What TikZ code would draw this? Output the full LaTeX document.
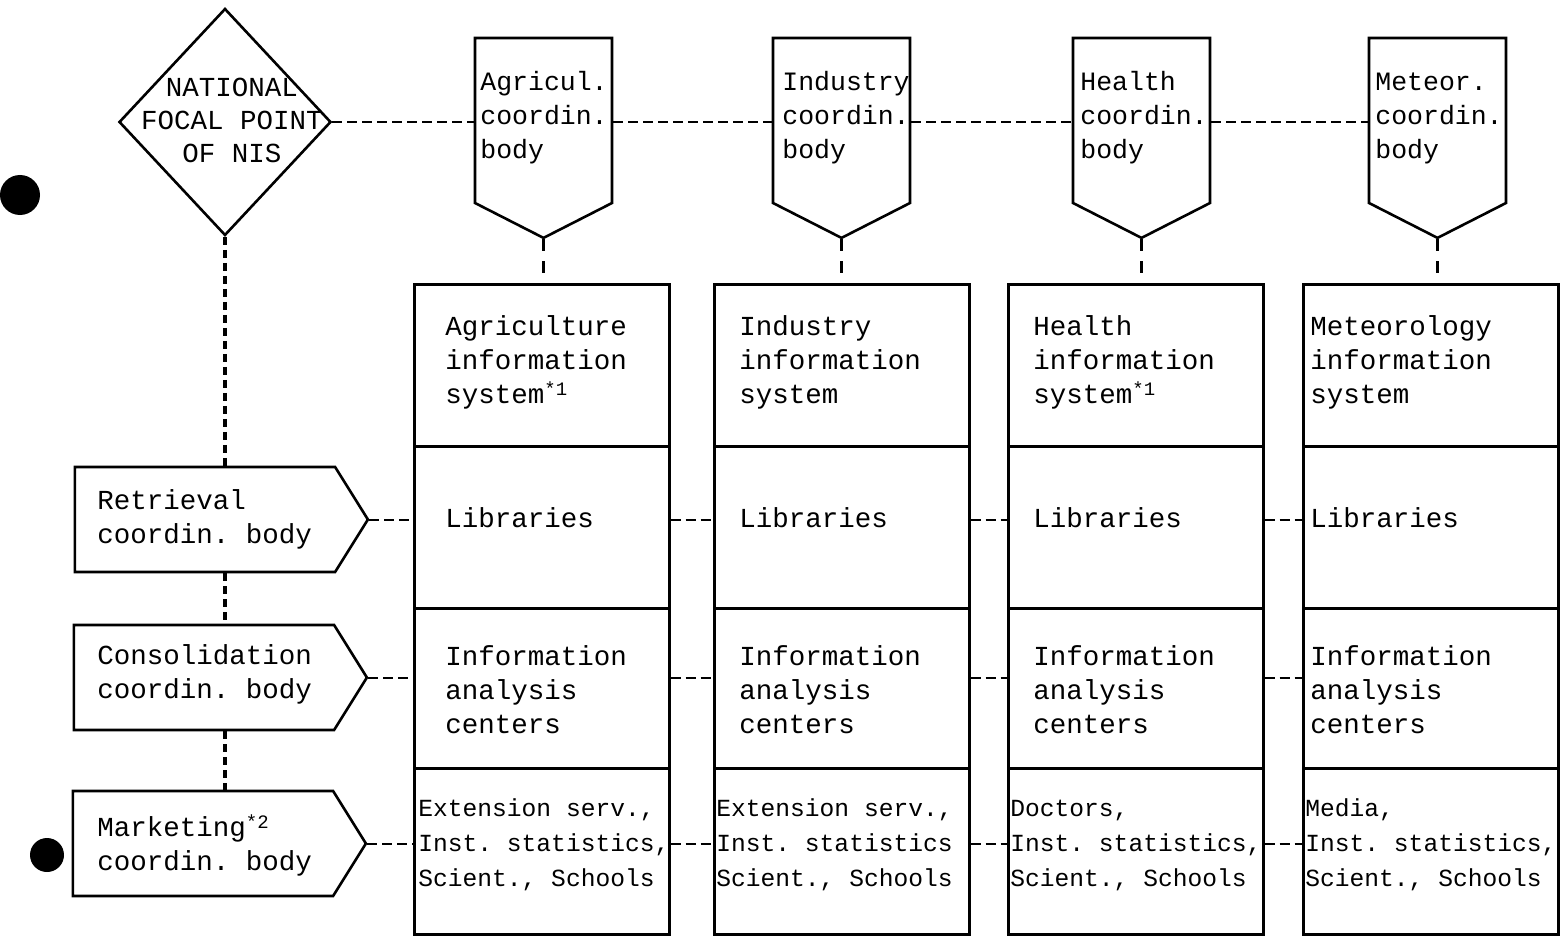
\documentclass[tikz,border=0pt]{standalone}
\usepackage{fontspec}
\newfontfamily\tw{Liberation Mono}
\usetikzlibrary{shapes.geometric,shapes.symbols}
\newcommand{\fnmark}[1]{\raisebox{0.55ex}{\fontsize{9.5}{9.5}\selectfont #1}}
\begin{document}
\frenchspacing
\begin{tikzpicture}[x=0.5pt,y=-0.5pt,
  outl/.style={draw=black,line width=1.3pt,inner sep=0pt},
  shield/.style={outl,signal,signal to=south,signal from=nowhere,
    signal pointer angle=126,minimum width=68.5pt,minimum height=82.5pt},
  coord/.style={outl,signal,signal to=east,signal from=nowhere,
    signal pointer angle=116,minimum width=146.5pt,minimum height=52.5pt},
  cell/.style={outl,rectangle,anchor=north west,minimum width=127.5pt},
  txt/.style={font=\tw\fontsize{13.75}{17}\selectfont,anchor=west,inner sep=0pt,align=left},
  hdtxt/.style={font=\tw\fontsize{13.25}{17}\selectfont,anchor=west,inner sep=0pt,align=left},
  smtxt/.style={font=\tw\fontsize{12.3}{17.5}\selectfont,anchor=west,inner sep=0pt,align=left},
  topdash/.style={line width=1pt,dash pattern=on 5pt off 2.5pt},
  vdash/.style={line width=1.6pt,dash pattern=on 6pt off 5pt},
  ldash/.style={line width=1.6pt,dash pattern=on 4pt off 2.5pt},
  rdash/.style={line width=1pt,dash pattern=on 5pt off 2.5pt},
  blot/.style={fill=black,draw=none}
]
\useasboundingbox (0,0) rectangle (1566,936);
\fill[white] (0,0) rectangle (1566,936);

% National focal point
\node[outl,diamond,minimum width=106pt,minimum height=113.5pt] (nfp) at (225,122) {};
\node[hdtxt,anchor=center,align=center,font=\tw\fontsize{13.75}{16.5}\selectfont] (nfpt) at (232,120) {NATIONAL\\FOCAL POINT\\OF NIS};

% coordination bodies (top)
\node[shield] (ag) at (543.5,120.5) {};
\node[shield] (in) at (841.5,120.5) {};
\node[shield] (he) at (1141.5,120.5) {};
\node[shield] (me) at (1437.5,120.5) {};
\node[hdtxt] (agt) at (480,118) {Agricul.\\coordin.\\body};
\node[hdtxt] (int) at (782,118) {Industry\\coordin.\\body};
\node[hdtxt] (het) at (1080,118) {Health\\coordin.\\body};
\node[hdtxt] (met) at (1375,118) {Meteor.\\coordin.\\body};

% left coordination bodies
\node[coord] (ret) at (205,519.5) {};
\node[coord] (con) at (204,677.5) {};
\node[coord] (mar) at (203,843.5) {};
\node[txt] (rett) at (97,519) {Retrieval\\coordin. body};
\node[txt] (cont) at (97,674) {Consolidation\\coordin. body};
\node[txt] (mart) at (97,845) {Marketing\fnmark{*2}\\coordin. body};

% columns
\foreach \n/\x in {a/413,i/713,h/1007,m/1302}{
  \node[cell,minimum height=81pt] (\n1) at (\x,283) {};
  \node[cell,minimum height=81pt] (\n2) at (\x,445) {};
  \node[cell,minimum height=80pt] (\n3) at (\x,607) {};
  \node[cell,minimum height=83pt] (\n4) at (\x,767) {};
}

% column texts
\node[txt] (a1t) at (445,362) {Agriculture\\information\\system\fnmark{*1}};
\node[txt] (i1t) at (739,362) {Industry\\information\\system};
\node[txt] (h1t) at (1033,362) {Health\\information\\system\fnmark{*1}};
\node[txt] (m1t) at (1310,362) {Meteorology\\information\\system};

\node[txt] (a2t) at (445,518) {Libraries};
\node[txt] (i2t) at (739,518) {Libraries};
\node[txt] (h2t) at (1033,518) {Libraries};
\node[txt] (m2t) at (1310,518) {Libraries};

\node[txt] (a3t) at (445,690) {Information\\analysis\\centers};
\node[txt] (i3t) at (739,690) {Information\\analysis\\centers};
\node[txt] (h3t) at (1033,690) {Information\\analysis\\centers};
\node[txt] (m3t) at (1310,690) {Information\\analysis\\centers};

\node[smtxt] (a4t) at (418,845) {Extension serv.,\\Inst. statistics,\\Scient., Schools};
\node[smtxt] (i4t) at (716,845) {Extension serv.,\\Inst. statistics\\Scient., Schools};
\node[smtxt] (h4t) at (1010,845) {Doctors,\\Inst. statistics,\\Scient., Schools};
\node[smtxt] (m4t) at (1305,845) {Media,\\Inst. statistics,\\Scient., Schools};

% top horizontal dashed line
\draw[topdash] (nfp.east) -- (nfp.east -| ag.west);
\draw[topdash] (ag.east |- nfp.east) -- (in.west |- nfp.east);
\draw[topdash] (in.east |- nfp.east) -- (he.west |- nfp.east);
\draw[topdash] (he.east |- nfp.east) -- (me.west |- nfp.east);

% shields to columns
\draw[vdash] (ag.south) -- (ag.south |- a1.north);
\draw[vdash] (in.south) -- (in.south |- i1.north);
\draw[vdash] (he.south) -- (he.south |- h1.north);
\draw[vdash] (me.south) -- (me.south |- m1.north);

% left vertical chain
\draw[ldash] (nfp.south) -- (nfp.south |- ret.north);
\draw[ldash] (nfp.south |- ret.south) -- (nfp.south |- con.north);
\draw[ldash] (nfp.south |- con.south) -- (nfp.south |- mar.north);

% row connectors
\foreach \b/\r in {ret/2,con/3,mar/4}{
  \draw[rdash] (\b.east) -- (\b.east -| a\r.west);
  \draw[rdash] (a\r.east |- \b.east) -- (i\r.west |- \b.east);
  \draw[rdash] (i\r.east |- \b.east) -- (h\r.west |- \b.east);
  \draw[rdash] (h\r.east |- \b.east) -- (m\r.west |- \b.east);
}

% scan blots
\fill[blot] (20,195) circle (20);
\fill[blot] (47,855) circle (17);
\end{tikzpicture}
\end{document}
